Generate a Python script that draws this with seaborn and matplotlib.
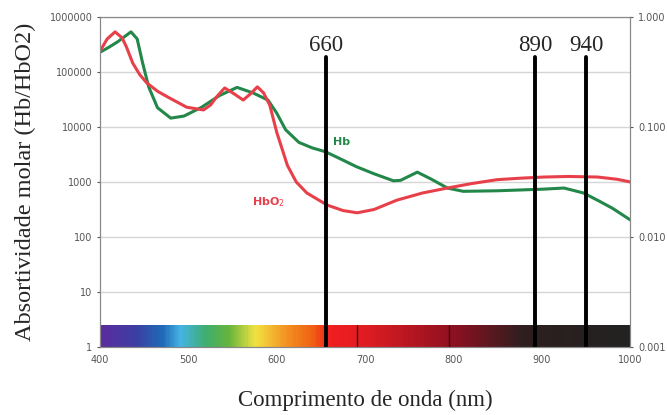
import numpy as np
import pandas as pd
import seaborn as sns
import matplotlib.pyplot as plt
from matplotlib.colors import LinearSegmentedColormap

# absorption spectra
hb_nm = [400, 410, 420, 435, 442, 448, 455, 465, 480, 495, 515, 535, 555, 573, 590,
         600, 610, 625, 640, 655, 672, 690, 710, 732, 740, 759, 775, 793, 811, 850,
         902, 925, 947, 965, 980, 1000]
hb_val = [229000, 282000, 355000, 537000, 400000, 150000, 53700, 22400, 14500, 15800,
          22900, 37200, 52500, 41700, 30900, 17800, 8900, 5250, 4170, 3550, 2630, 1900,
          1410, 1050, 1070, 1510, 1120, 776, 676, 692, 741, 776, 631, 447, 331, 204]

hbo2_nm = [400, 408, 417, 425, 430, 437, 445, 453, 465, 476, 498, 517, 525, 532, 541,
           552, 562, 570, 578, 585, 592, 600, 612, 622, 634, 657, 675, 691, 710, 736,
           765, 793, 820, 849, 875, 902, 930, 963, 985, 1000]
hbo2_val = [240000, 398000, 537000, 417000, 282000, 145000, 89100, 63100, 44700, 35500,
            22900, 20400, 25100, 35500, 51300, 39800, 30900, 39800, 53700, 41700, 25100,
            7940, 2000, 1000, 631, 380, 302, 275, 316, 468, 631, 776, 933, 1100, 1170,
            1230, 1260, 1230, 1120, 1000]

# LED wavelengths marked on the chart
led_labels = ['660', '890', '940']
led_pos = [656, 892, 950]

# visible spectrum strip
spec_nm = [400, 440, 470, 490, 520, 545, 575, 610, 640, 660, 700, 800, 880, 1000]
spec_col = ['#5b2c9c', '#3b3fa3', '#1f6bb8', '#45b4e3', '#3fae6c', '#67b43c', '#f1e241',
            '#f39222', '#f06012', '#f01e1e', '#e01c22', '#8e1020', '#2e1e1e', '#222222']

df = pd.concat([
    pd.DataFrame({'nm': hb_nm, 'val': hb_val, 'sp': 'Hb'}),
    pd.DataFrame({'nm': hbo2_nm, 'val': hbo2_val, 'sp': 'HbO2'}),
])

sns.set_style('white')
fig = plt.figure(figsize=(6.67, 4.15), dpi=100)
ax = fig.add_axes([0.150, 0.164, 0.795, 0.795])

sns.lineplot(data=df, x='nm', y='val', hue='sp', palette={'Hb': '#23874a', 'HbO2': '#e8404a'},
             linewidth=2.2, legend=False, ax=ax, sort=False)
ax.set_yscale('log')
ax.set_xlim(400, 1000)
ax.set_ylim(1, 1e6)

# spectrum strip along the bottom
pos = [(n - 400) / 600 for n in spec_nm]
cmap = LinearSegmentedColormap.from_list('spec', list(zip(pos, spec_col)))
xs = np.linspace(400, 1000, 601)
ax.pcolormesh(xs, [1, 2.5], xs[:-1][None, :], cmap=cmap, shading='flat', zorder=1)
ax.vlines([691, 795], 1, 2.5, color='#3a0a0a', linewidth=1, zorder=1.5)

for lab, x in zip(led_labels, led_pos):
    ax.axvline(x, ymin=0, ymax=0.88, color='black', linewidth=2.8, zorder=4)
    ax.text(x, 0.915, lab, transform=ax.get_xaxis_transform(), ha='center', va='center',
            fontsize=16.5, family='Liberation Serif')

ax.text(664, 4700, 'Hb', color='#23874a', fontsize=8, fontweight='bold')
ax.text(572, 380, 'HbO$_2$', color='#e8404a', fontsize=8, fontweight='bold')

ax.grid(axis='y', color='#d6d6d6', linewidth=1)
ax.set_axisbelow(True)
ax.set_yticks([1, 10, 100, 1000, 10000, 100000, 1000000])
ax.set_yticklabels(['1', '10', '100', '1000', '10000', '100000', '1000000'])
ax.minorticks_off()
ax.set_xticks([400, 500, 600, 700, 800, 900, 1000])
ax.tick_params(labelsize=7, colors='#555555', length=2)
for s in ax.spines.values():
    s.set_color('#888888')

ax2 = ax.twinx()
ax2.set_yscale('log')
ax2.set_ylim(0.001, 1)
ax2.set_yticks([0.001, 0.01, 0.1, 1])
ax2.set_yticklabels(['0.001', '0.010', '0.100', '1.000'])
ax2.minorticks_off()
ax2.tick_params(labelsize=7, colors='#555555', length=2)
for s in ax2.spines.values():
    s.set_color('#888888')

ax.set_xlabel('Comprimento de onda (nm)', family='Liberation Serif', fontsize=16.5, labelpad=18)
ax.set_ylabel('Absortividade molar (Hb/HbO2)', family='Liberation Serif', fontsize=17.5, labelpad=10)

fig.savefig('out.png', dpi=100)
